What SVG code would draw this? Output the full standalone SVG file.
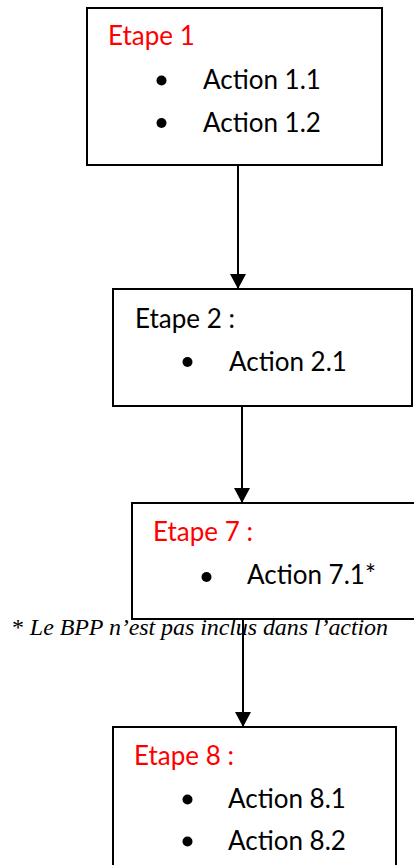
<svg xmlns="http://www.w3.org/2000/svg" width="414" height="865" viewBox="0 0 414 865">
  <style>
    .box { fill: #ffffff; stroke: #000000; stroke-width: 2; }
    .title { font-family: Lato, "Liberation Sans", sans-serif; font-size: 26px; fill: #ff0000; }
    .title.plain { fill: #000000; }
    .item { font-family: Lato, "Liberation Sans", sans-serif; font-size: 26px; fill: #000000; }
    .dot { fill: #000000; }
    .note { font-family: "Liberation Serif", serif; font-size: 24px; font-style: italic; fill: #000000; }
    .link { stroke: #000000; stroke-width: 2; fill: none; marker-end: url(#arrow); }
  </style>
  <defs>
    <marker id="arrow" markerUnits="userSpaceOnUse" markerWidth="16" markerHeight="16" viewBox="0 0 16 16" refX="15" refY="8" orient="auto">
      <path d="M0,0 L15,8 L0,16 Z" fill="#000000"/>
    </marker>
  </defs>
  <rect width="414" height="865" fill="#ffffff"/>

  <g id="etape1">
    <rect class="box" x="87" y="8" width="295" height="157"/>
    <text class="title" x="108" y="45">Etape 1</text>
    <circle class="dot" cx="161.5" cy="80.5" r="5"/>
    <text class="item" x="203" y="89">Action 1.1</text>
    <circle class="dot" cx="161.5" cy="123" r="5"/>
    <text class="item" x="203" y="131.5">Action 1.2</text>
  </g>

  <g id="etape2">
    <rect class="box" x="113" y="289" width="299" height="117"/>
    <text class="title plain" x="135" y="328">Etape 2 :</text>
    <circle class="dot" cx="187.5" cy="362" r="5"/>
    <text class="item" x="229" y="371">Action 2.1</text>
  </g>

  <g id="etape7">
    <rect class="box" x="132" y="503" width="290" height="116"/>
    <text class="title" x="153" y="540.5">Etape 7 :</text>
    <circle class="dot" cx="206.5" cy="577" r="5"/>
    <text class="item" x="247" y="584">Action 7.1*</text>
  </g>

  <g id="note">
    <text class="note" x="12" y="635" textLength="376" lengthAdjust="spacing"><tspan font-style="normal">*</tspan> Le BPP n’est pas inclus dans l’action</text>
  </g>

  <g id="etape8">
    <rect class="box" x="113" y="727" width="283" height="150"/>
    <text class="title" x="134" y="765">Etape 8 :</text>
    <circle class="dot" cx="187.5" cy="799.5" r="5"/>
    <text class="item" x="228" y="807.5">Action 8.1</text>
    <circle class="dot" cx="187.5" cy="841.5" r="5"/>
    <text class="item" x="228" y="849.5">Action 8.2</text>
  </g>

  <g id="connectors">
    <line class="link" x1="238" y1="165" x2="238" y2="289"/>
    <line class="link" x1="242" y1="406" x2="242" y2="503"/>
    <line class="link" x1="243" y1="619" x2="243" y2="727"/>
  </g>
</svg>
